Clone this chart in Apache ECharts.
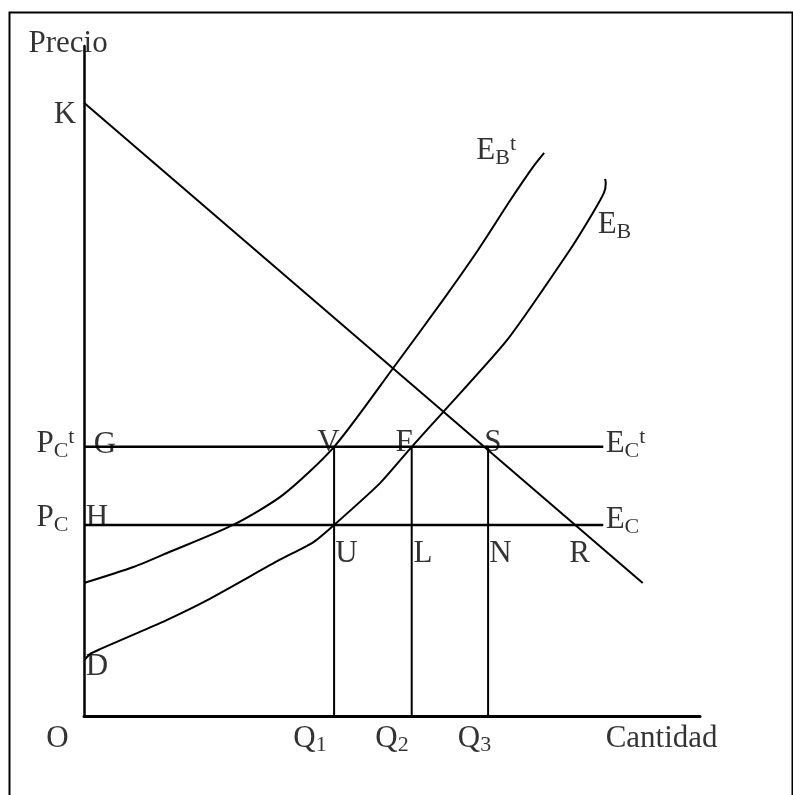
<!DOCTYPE html>
<html>
<head>
<meta charset="utf-8">
<script src="https://cdn.jsdelivr.net/npm/echarts@6/dist/echarts.min.js"></script>
<style>
  html, body { margin: 0; padding: 0; background: #fff; }
  #main { width: 793px; height: 795px; }
</style>
</head>
<body>
<div id="main"></div>
<script>
// values (x: cantidad 0-100, y: precio 0-100)
var demanda = [[0, 91.8], [90.7, 19.9]];
var ofertaT = [[0, 19.9], [8.0, 22.3], [13.5, 24.4], [24.2, 28.6], [32.3, 33.1], [40.6, 40.3],
  [50.2, 52.1], [58.3, 62.3], [64.0, 69.8], [69.2, 77.2], [72.9, 82.2], [74.7, 84.3]];
var oferta = [[0.1, 8.4], [1.0, 9.3], [2.6, 10.0], [8.6, 12.4], [13.5, 14.4], [20.1, 17.4], [31.8, 23.4],
  [37.2, 26.0], [40.6, 28.6], [48.1, 34.9], [53.2, 40.3], [58.3, 45.5], [68.7, 56.3], [78.9, 69.8],
  [82.6, 75.3], [84.4, 78.3], [84.7, 79.8], [84.6, 80.4]];
var precios = [40.3, 28.6];        // PCt, PC
var cantidades = [40.6, 53.2, 65.6]; // Q1, Q2, Q3
var finPrecio = 84.3;

// texto: [etiqueta, x, y]
var etiquetas = [
  ['{m|Precio}', -9.1, 100.6],
  ['{m|K}', -5.0, 90.0],
  ['{m|E}{s|B}{u|t}', 63.6, 84.6],
  ['{m|E}{s|B}', 83.3, 73.5],
  ['{m|P}{s|C}{u|t}', -7.8, 40.7],
  ['{m|G}', 1.5, 40.6],
  ['{m|P}{s|C}', -7.8, 29.6],
  ['{m|H}', 0.2, 29.6],
  ['{m|V}', 37.8, 40.9],
  ['{m|F}', 50.5, 40.9],
  ['{m|S}', 64.9, 40.9],
  ['{m|E}{s|C}{u|t}', 84.6, 40.7],
  ['{m|E}{s|C}', 84.6, 29.3],
  ['{m|U}', 40.7, 24.3],
  ['{m|L}', 53.4, 24.3],
  ['{m|N}', 65.7, 24.3],
  ['{m|R}', 78.7, 24.3],
  ['{m|D}', 0.2, 7.3],
  ['{m|O}', -6.2, -3.4],
  ['{m|Q}{s|1}', 33.9, -3.4],
  ['{m|Q}{s|2}', 47.2, -3.4],
  ['{m|Q}{s|3}', 60.6, -3.4],
  ['{m|Cantidad}', 84.6, -3.4]
];

var font = 'Liberation Serif, Times New Roman, serif';

var series = [];
function linea(data, w, smooth) {
  series.push({
    type: 'line', data: data, symbol: 'none', smooth: smooth || false, clip: false,
    lineStyle: { color: '#000', width: w }, silent: true, animation: false
  });
}
linea(demanda, 2);
linea(ofertaT, 2, 0.25);
linea(oferta, 2, 0.2);
precios.forEach(function (p) {
  linea([[0, p], [finPrecio, p]], 2.4);
});
cantidades.forEach(function (q) {
  linea([[q, 0], [q, precios[0]]], 2);
});
series.push({
  type: 'scatter', clip: false, symbolSize: 1, silent: true, animation: false,
  itemStyle: { color: 'transparent' },
  data: etiquetas.map(function (e) { return { value: [e[1], e[2]], name: e[0] }; }),
  label: {
    show: true, position: 'right', distance: 0, color: '#000',
    formatter: function (p) { return p.name; },
    rich: {
      m: { fontSize: 31, lineHeight: 36, fontFamily: font, color: '#000' },
      s: { fontSize: 22, lineHeight: 22, verticalAlign: 'bottom', fontFamily: font, color: '#000' },
      u: { fontSize: 22, lineHeight: 22, verticalAlign: 'top', fontFamily: font, color: '#000' }
    }
  }
});

var myChart = echarts.init(document.getElementById('main'));
var option = {
  animation: false,
  grid: { left: 84, top: 46, width: 616, height: 670 },
  xAxis: {
    type: 'value', min: 0, max: 100,
    axisLine: { show: true, onZero: false, lineStyle: { color: '#000', width: 3 } },
    axisTick: { show: false }, axisLabel: { show: false }, splitLine: { show: false }
  },
  yAxis: {
    type: 'value', min: 0, max: 100.3,
    axisLine: { show: true, onZero: false, lineStyle: { color: '#000', width: 2.5 } },
    axisTick: { show: false }, axisLabel: { show: false }, splitLine: { show: false }
  },
  graphic: [{
    type: 'rect', left: 7, top: 10,
    shape: { width: 783, height: 800 },
    style: { fill: 'none', stroke: '#000', lineWidth: 2 }
  }],
  series: series
};
myChart.setOption(option);
</script>
</body>
</html>
